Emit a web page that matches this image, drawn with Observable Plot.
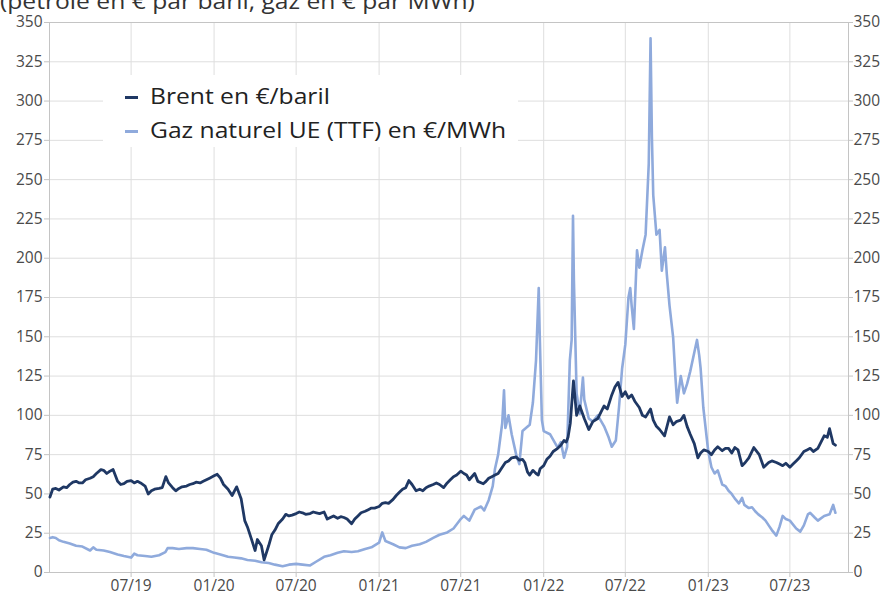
<!DOCTYPE html>
<html>
<head>
<meta charset="utf-8">
<script src="https://cdn.jsdelivr.net/npm/d3@7"></script>
<script src="https://cdn.jsdelivr.net/npm/@observablehq/plot@0.6"></script>
<style>
  html, body { margin: 0; padding: 0; background: #fff; }
  #wrap { position: relative; width: 884px; height: 595px; overflow: hidden; font-family: "Open Sans", sans-serif; }
  #title { position: absolute; left: 0; top: -11.5px; font-size: 22px; line-height: 22px; color: #333; white-space: nowrap; z-index: 2; transform: scaleX(1.12); transform-origin: left center; }
  #legend { position: absolute; left: 103px; top: 75px; width: 415px; height: 72px; background: #fff; z-index: 2; }
  .row { position: absolute; left: 47px; font-size: 22px; line-height: 22px; color: #222; white-space: nowrap; transform: scaleX(1.12); transform-origin: left center; }
  .sw { position: absolute; left: 22px; width: 13px; height: 3px; }
</style>
</head>
<body>
<div id="wrap">
  <div id="title">(pétrole en € par baril, gaz en € par MWh)</div>
  <div id="legend">
    <div class="sw" style="top:20.5px;background:#1f3864"></div>
    <div class="row" style="top:8.5px">Brent en €/baril</div>
    <div class="sw" style="top:54.5px;background:#8faadc"></div>
    <div class="row" style="top:42.5px">Gaz naturel UE (TTF) en €/MWh</div>
  </div>
</div>
<script>
// [date, €/baril]
const brentSeries = [
  ["2019-01-02",48],["2019-01-08",53],["2019-01-15",53.5],["2019-01-22",52.5],["2019-02-01",54.5],["2019-02-08",54],["2019-02-15",56],["2019-02-22",57.5],
  ["2019-03-01",58],["2019-03-08",57],["2019-03-15",57],["2019-03-22",59],["2019-04-01",60],["2019-04-08",61],["2019-04-15",63],["2019-04-25",65.5],
  ["2019-05-01",65],["2019-05-08",63],["2019-05-15",64.5],["2019-05-22",65.5],["2019-06-01",58],["2019-06-08",56],["2019-06-15",56.5],["2019-06-22",58],
  ["2019-07-01",58.5],["2019-07-08",57],["2019-07-15",58],["2019-07-22",57],["2019-08-01",55],["2019-08-08",50],["2019-08-15",52],["2019-08-22",53],
  ["2019-09-01",53.5],["2019-09-08",54],["2019-09-16",61],["2019-09-22",57],["2019-10-01",54],["2019-10-08",52],["2019-10-15",53.5],["2019-10-22",54.5],
  ["2019-11-01",55],["2019-11-08",56],["2019-11-15",56.5],["2019-11-22",57.5],["2019-12-01",57],["2019-12-08",58],["2019-12-15",59],["2019-12-22",60],
  ["2020-01-01",61.5],["2020-01-08",62.5],["2020-01-15",60],["2020-01-22",56],["2020-02-01",53],["2020-02-10",49],["2020-02-20",54.5],["2020-03-01",47],
  ["2020-03-09",33],["2020-03-15",29],["2020-03-23",22],["2020-04-01",14],["2020-04-06",21],["2020-04-15",17],["2020-04-21",8],["2020-05-01",17],
  ["2020-05-08",24],["2020-05-15",27],["2020-05-22",31],["2020-06-01",34],["2020-06-08",37],["2020-06-15",36],["2020-06-22",36.5],["2020-07-01",37.5],
  ["2020-07-08",38.5],["2020-07-15",38],["2020-07-22",37],["2020-08-01",37.5],["2020-08-08",38.5],["2020-08-15",38],["2020-08-22",37.5],["2020-09-01",38.5],
  ["2020-09-08",34],["2020-09-15",35],["2020-09-22",36],["2020-10-01",34.5],["2020-10-08",35.5],["2020-10-15",35],["2020-10-22",34],["2020-11-01",31],
  ["2020-11-08",34],["2020-11-15",36],["2020-11-22",38],["2020-12-01",39],["2020-12-08",40],["2020-12-15",41],["2020-12-22",41],["2021-01-01",42],
  ["2021-01-08",44],["2021-01-15",44.5],["2021-01-22",44],["2021-02-01",46.5],["2021-02-08",49],["2021-02-15",51],["2021-02-22",53],["2021-03-01",54],
  ["2021-03-08",58.5],["2021-03-15",56],["2021-03-24",52],["2021-04-01",53],["2021-04-08",52],["2021-04-15",54],["2021-04-22",55],["2021-05-01",56],
  ["2021-05-08",57],["2021-05-15",56],["2021-05-24",54],["2021-06-01",57],["2021-06-08",59],["2021-06-15",61],["2021-06-22",62],["2021-07-01",64.5],
  ["2021-07-08",63],["2021-07-14",62],["2021-07-20",59],["2021-08-01",63],["2021-08-08",58],["2021-08-20",56.5],["2021-08-26",58],["2021-09-01",60],
  ["2021-09-08",61],["2021-09-15",62],["2021-09-22",63],["2021-10-01",67],["2021-10-08",70],["2021-10-15",71],["2021-10-22",73],["2021-11-01",73.5],
  ["2021-11-08",71.5],["2021-11-15",72],["2021-11-20",70],["2021-11-26",64],["2021-12-01",62],["2021-12-08",65],["2021-12-15",63],["2021-12-20",62],
  ["2021-12-24",66],["2022-01-01",68],["2022-01-08",72],["2022-01-15",74],["2022-01-22",77],["2022-02-01",79],["2022-02-08",81],["2022-02-15",84],
  ["2022-02-20",83],["2022-02-24",86],["2022-03-01",95],["2022-03-08",122],["2022-03-15",100],["2022-03-22",106],["2022-04-01",98],["2022-04-11",91],
  ["2022-04-20",96],["2022-05-01",98],["2022-05-08",102],["2022-05-15",106],["2022-05-22",104],["2022-06-01",113],["2022-06-08",118],["2022-06-15",121],
  ["2022-06-24",112],["2022-07-01",115],["2022-07-08",111],["2022-07-15",113],["2022-07-22",109],["2022-08-01",105],["2022-08-08",100],["2022-08-15",99],
  ["2022-08-26",104],["2022-09-01",97],["2022-09-08",93],["2022-09-15",91],["2022-09-26",87],["2022-10-07",99],["2022-10-15",94],["2022-10-22",96],
  ["2022-11-01",97],["2022-11-08",100],["2022-11-15",93],["2022-11-22",88],["2022-12-01",82],["2022-12-09",73],["2022-12-15",76],["2022-12-22",78],
  ["2023-01-01",77],["2023-01-08",75],["2023-01-15",78],["2023-01-22",80],["2023-02-01",77.5],["2023-02-08",79],["2023-02-15",79],["2023-02-22",76],
  ["2023-03-01",79.5],["2023-03-08",78],["2023-03-17",68],["2023-03-24",70],["2023-04-01",73],["2023-04-12",79.5],["2023-04-24",75],["2023-05-04",67],
  ["2023-05-15",70],["2023-05-22",71],["2023-06-01",70],["2023-06-08",69],["2023-06-15",68],["2023-06-22",69.5],["2023-07-01",67],["2023-07-08",69],
  ["2023-07-15",71],["2023-07-22",73],["2023-08-01",77],["2023-08-08",78],["2023-08-15",79],["2023-08-22",77],["2023-09-01",79],["2023-09-08",83],
  ["2023-09-15",87],["2023-09-22",86],["2023-09-27",91.5],["2023-10-05",82],["2023-10-10",81]
];

// [date, €/MWh]
const gasSeries = [
  ["2019-01-02",22],["2019-01-08",22.5],["2019-01-15",22],["2019-01-22",20.5],["2019-02-01",19.5],["2019-02-15",18.5],["2019-03-01",17],["2019-03-15",16.5],
  ["2019-04-01",14],["2019-04-08",16],["2019-04-15",14.5],["2019-05-01",14],["2019-05-15",13],["2019-06-01",11.5],["2019-06-15",10.5],["2019-07-01",9.5],
  ["2019-07-08",12],["2019-07-15",11],["2019-08-01",10.5],["2019-08-15",10],["2019-09-01",11],["2019-09-15",13],["2019-09-20",15.5],["2019-10-01",15.5],
  ["2019-10-15",15],["2019-11-01",15.5],["2019-11-15",15.5],["2019-12-01",15],["2019-12-15",14.5],["2020-01-01",12.5],["2020-01-15",11.5],["2020-02-01",10],
  ["2020-02-15",9.5],["2020-03-01",9],["2020-03-15",8],["2020-04-01",7.5],["2020-04-15",6.5],["2020-05-01",6],["2020-05-15",5],["2020-06-01",4],
  ["2020-06-15",5],["2020-07-01",5.5],["2020-07-15",5],["2020-08-01",4.5],["2020-08-15",7],["2020-09-01",10],["2020-09-15",11],["2020-10-01",12.5],
  ["2020-10-15",13.5],["2020-11-01",13],["2020-11-15",13.5],["2020-12-01",15],["2020-12-15",16],["2021-01-01",19],["2021-01-08",25.5],["2021-01-15",20],
  ["2021-02-01",18],["2021-02-15",16],["2021-03-01",15.5],["2021-03-15",17],["2021-04-01",18],["2021-04-15",19.5],["2021-05-01",22],["2021-05-15",24],
  ["2021-06-01",25.5],["2021-06-15",28],["2021-07-01",34],["2021-07-08",36],["2021-07-20",33],["2021-08-01",40],["2021-08-15",42],["2021-08-22",39.5],
  ["2021-09-01",46],["2021-09-10",55],["2021-09-15",66],["2021-09-22",75],["2021-10-01",95],["2021-10-05",116],["2021-10-08",92],["2021-10-15",100],
  ["2021-10-22",88],["2021-11-01",75],["2021-11-08",69],["2021-11-15",90],["2021-12-01",94],["2021-12-08",108],["2021-12-15",135],["2021-12-21",181],
  ["2021-12-23",154],["2021-12-28",97],["2022-01-01",90],["2022-01-15",88],["2022-02-01",79.5],["2022-02-08",83],["2022-02-15",73],["2022-02-22",80],
  ["2022-02-28",135],["2022-03-04",148],["2022-03-07",227],["2022-03-09",186],["2022-03-15",114],["2022-03-22",101],["2022-03-29",124],["2022-04-01",110],
  ["2022-04-11",98],["2022-04-20",96],["2022-05-01",100],["2022-05-15",93],["2022-05-25",86],["2022-06-01",80],["2022-06-10",84],["2022-06-17",105],
  ["2022-06-24",130],["2022-07-01",145],["2022-07-08",175],["2022-07-12",181],["2022-07-15",170],["2022-07-20",155],["2022-07-27",205],["2022-08-01",194],
  ["2022-08-08",205],["2022-08-15",215],["2022-08-22",260],["2022-08-26",340],["2022-08-29",277],["2022-09-01",240],["2022-09-08",215],["2022-09-15",218],
  ["2022-09-20",192],["2022-09-27",207],["2022-10-01",190],["2022-10-07",170],["2022-10-15",150],["2022-10-20",125],["2022-10-24",108],["2022-11-01",125],
  ["2022-11-08",114],["2022-11-15",120],["2022-11-22",128],["2022-12-01",140],["2022-12-07",148],["2022-12-12",138],["2022-12-15",130],["2022-12-21",105],
  ["2023-01-01",77],["2023-01-08",67],["2023-01-15",63],["2023-01-22",65],["2023-02-01",56],["2023-02-08",55],["2023-02-15",52],["2023-02-22",50],
  ["2023-03-01",47],["2023-03-10",44],["2023-03-17",47.5],["2023-03-22",43],["2023-04-01",41],["2023-04-08",41.5],["2023-04-15",39],["2023-04-22",37],
  ["2023-05-01",35],["2023-05-08",33],["2023-05-15",30],["2023-05-22",27],["2023-06-01",23.5],["2023-06-08",29],["2023-06-15",36],["2023-06-22",34],
  ["2023-07-01",33],["2023-07-15",28],["2023-07-24",26],["2023-08-01",30],["2023-08-10",37],["2023-08-15",38],["2023-08-25",35],["2023-09-01",33],
  ["2023-09-15",36],["2023-09-27",37],["2023-10-05",43],["2023-10-10",38]
];

const yTicks = [0,25,50,75,100,125,150,175,200,225,250,275,300,325,350];
const xTickDates = ["2019-07-01","2020-01-01","2020-07-01","2021-01-01","2021-07-01","2022-01-01","2022-07-01","2023-01-01","2023-07-01"];
const xDomain = ["2019-01-01","2023-11-08"];

const brent = brentSeries.map(([d, v]) => ({date: new Date(d), value: v}));
const gas = gasSeries.map(([d, v]) => ({date: new Date(d), value: v}));
const xTicks = xTickDates.map(d => new Date(d));

const chart = Plot.plot({
  width: 884,
  height: 595,
  marginLeft: 49,
  marginRight: 36,
  marginTop: 22,
  marginBottom: 23,
  style: {fontFamily: "Open Sans, sans-serif", fontSize: "15.5px", background: "#fff", overflow: "visible"},
  x: {type: "utc", domain: xDomain.map(d => new Date(d))},
  y: {domain: [0, 350]},
  marks: [
    Plot.gridY(yTicks, {stroke: "#dedede", strokeOpacity: 1}),
    Plot.gridX(xTicks, {stroke: "#dedede", strokeOpacity: 1}),
    Plot.frame({stroke: "#c4c4c4"}),
    Plot.axisY(yTicks, {anchor: "left", tickSize: 5, tickPadding: 2, stroke: "#c4c4c4", fill: "#4a4a4a", label: null}),
    Plot.axisY(yTicks, {anchor: "right", tickSize: 4, tickPadding: 1, stroke: "#c4c4c4", fill: "#4a4a4a", label: null}),
    Plot.axisX(xTicks, {anchor: "bottom", tickSize: 5, tickPadding: 2.5, stroke: "#c4c4c4", fill: "#4a4a4a", tickFormat: d3.utcFormat("%m/%y"), label: null}),
    Plot.line(gas, {x: "date", y: "value", stroke: "#8faadc", strokeWidth: 2.6, strokeLinejoin: "round"}),
    Plot.line(brent, {x: "date", y: "value", stroke: "#1f3864", strokeWidth: 2.8, strokeLinejoin: "round"})
  ]
});
chart.style.position = "absolute";
chart.style.left = "0";
chart.style.top = "0";
document.getElementById("wrap").appendChild(chart);
</script>
</body>
</html>
